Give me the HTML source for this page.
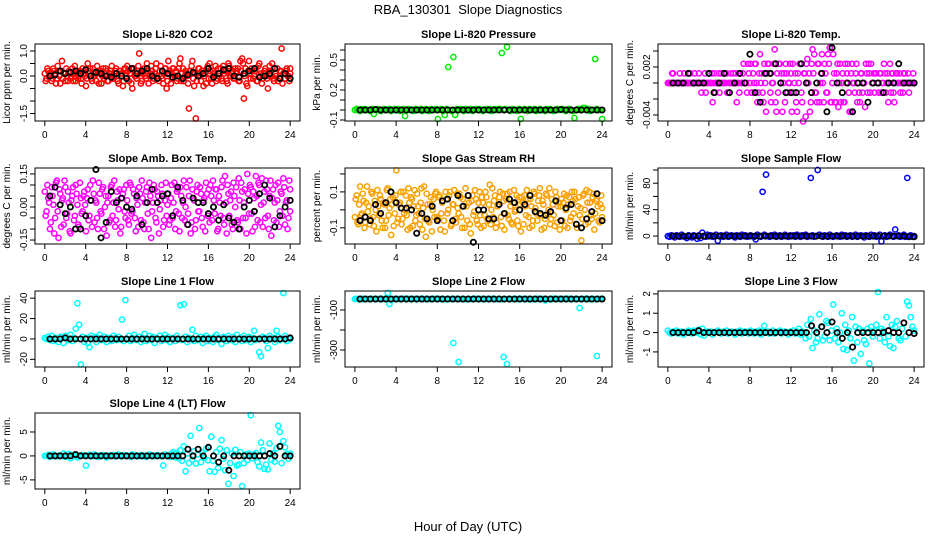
<!DOCTYPE html>
<html><head><meta charset="utf-8"><style>
body{margin:0;background:#fff;}
svg{display:block;font-family:"Liberation Sans",sans-serif;}
</style></head><body>
<svg id="chart" width="936" height="540" viewBox="0 0 936 540">
<rect width="936" height="540" fill="#fff"/>
<text x="468" y="14" text-anchor="middle" font-size="13">RBA_130301&#160;&#160;Slope Diagnostics</text>
<text x="468" y="531" text-anchor="middle" font-size="13">Hour of Day (UTC)</text>
</svg>
<script>
const xTicks = [0,4,8,12,16,20,24];

const p1Color = [.1,-.1,.2,0,-.2,.3,.1,-.1,.2,-.3,.6,.1,-.2,0,.2,-.1,.3,.1,-.2,.2,0,-.1,.3,.1,
-.4,.5,.2,-.1,.3,0,-.2,.2,.1,-.3,.3,0,.2,-.2,.1,.4,-.1,.2,0,-.3,.2,.1,-.2,.3,
.4,-.2,.1,-.5,.3,0,.2,.9,-.3,.1,.3,-.1,.2,0,.4,-.2,.1,.5,-.1,.2,0,-.3,.3,-.5,
.6,.2,-.1,.3,0,-.2,.3,.7,.1,-.2,.2,0,-1.3,.2,.6,-.4,-1.7,.1,.3,-.2,.2,0,-.3,.4,
.5,-.1,.2,0,-.2,.3,.1,-.1,.4,.2,-.2,.5,0,.1,-.1,.3,.2,-.2,.6,.7,-.9,.3,-.4,.6,
-.1,.2,0,.3,-.2,.5,.1,-.1,.2,0,-.5,.4,.2,-.1,.3,0,-.2,.2,1.1,.1,-.1,.3,0,.1];
const p1ColorB = [-.2,.3,0,.1,-.1,.2,-.3,.4,0,.2,-.1,.1,.3,-.2,.1,0,-.2,.4,.1,-.1,.2,-.3,.1,0,
-.1,.2,.3,-.2,0,.1,.4,-.3,.2,0,-.1,.3,-.2,.1,.2,-.1,0,.3,-.2,.2,.1,-.4,.3,0,
.2,.1,-.3,.3,0,-.1,.4,.1,-.2,.2,0,.5,-.3,.1,.2,-.1,.3,0,-.2,.4,-.1,.1,.3,-.2,
.1,-.3,.3,0,.2,-.1,.5,-.2,.3,0,.1,-.3,.2,.4,-.1,.1,-.2,.3,0,.2,-.4,.1,.3,-.1,
.2,-.3,.1,.4,-.1,0,.3,-.2,.1,.2,-.3,.4,0,.2,-.1,.1,.3,-.2,.2,.5,0,-.3,.2,.1,
.3,-.1,.2,-.2,.4,0,-.3,.1,.3,-.1,.2,0,.5,-.2,.1,.3,-.1,.2,-.3,.1,.2,0,-.2,.3];
const p1Black = [0,.05,.2,.1,.15,.2,.1,.25,0,.15,.1,0,-.05,.1,0,-.1,.3,.1,.2,.3,0,-.1,.2,.1,-.05,0,-.1,.05,.15,0,.1,.3,-.05,.1,.25,.3,0,-.05,.1,.2,.3,-.05,0,.1,.3,-.1,.1,-.1];

const p2Color = [0,.01,0,-.01,.01,0,.01,0,0,-.01,.01,-.04,0,.01,0,-.01,0,.01,0,0,.01,-.01,0,.01,
0,.01,-.01,0,.01,-.06,0,.01,0,0,-.01,.01,0,0,.01,-.01,0,.01,0,-.01,.01,0,0,.01,
-.09,0,.01,-.01,-.05,.01,.43,0,-.01,.53,-.05,.01,0,.01,0,-.01,.01,0,0,.01,-.01,0,.01,0,
.01,0,-.01,0,.01,0,.01,-.01,0,.01,0,.01,.01,.57,0,.01,.63,0,-.01,.01,0,0,-.01,.01,
-.09,0,.01,0,-.01,.01,0,0,.01,-.01,0,.01,0,0,-.01,.01,0,.01,0,-.01,0,.01,0,0,
.01,0,-.01,0,.01,0,-.01,-.08,0,.01,0,.01,.02,.02,0,.01,-.01,0,0,.51,.01,0,0,-.09];
const p2Black = [0,0,0,.005,0,0,0,0,0,0,0,0,0,0,0,0,0,0,0,0,0,0,0,0,0,0,0,0,0,0,0,0,0,0,0,0,0,0,0,.005,0,0,0,0,0,0,0,0];

const p3Color = [0,0,0,.0012,0,0,0,.0012,0,0,0,0,0,.0012,0,0,0,0,.0012,0,0,0,-.0012,0,
.0012,0,-.0024,.0012,0,0,-.0012,.0012,0,0,.0012,-.0012,0,0,.0012,0,-.0024,0,.0012,0,.0024,0,-.0012,.0012,
.0024,-.0012,0,.0024,-.0024,.0012,0,-.0012,.0024,-.0036,.0024,.0012,-.0024,0,.0042,-.0036,-.0012,.0024,.0012,0,-.0024,.0012,0,.0024,
-.0036,-.0012,.0012,-.0036,0,.0024,-.0024,.0012,-.0042,.0030,.0012,-.0024,.0042,.0036,-.0012,.0024,-.0024,.0012,0,.0024,-.0012,.0036,.0044,-.0024,
.0036,-.0024,.0012,-.0030,.0024,0,-.0024,.0024,.0012,-.0012,-.0036,.0024,0,.0012,-.0024,-.0012,.0012,-.0012,0,.0024,-.0012,.0012,.0024,0,
-.0012,.0012,0,.0012,-.0012,0,.0012,0,-.0024,.0024,.0012,-.0012,0,.0012,0,-.0012,0,.0012,0,0,-.0012,0,0,0];
const p3ColorB = [0,0,.0012,0,0,0,0,0,0,.0012,0,0,0,0,0,.0012,0,0,0,-.0012,0,.0012,0,0,
0,.0012,0,-.0012,0,.0012,0,0,.0012,0,-.0012,0,.0012,0,0,.0012,0,-.0012,0,.0012,0,0,.0024,0,
-.0012,.0012,.0024,0,-.0012,.0036,.0012,-.0024,0,.0012,.0024,-.0012,0,.0024,-.0024,.0012,.0024,0,-.0036,.0012,.0024,-.0012,0,.0012,
.0024,0,-.0024,.0012,.0024,-.0012,-.0048,.0012,.0024,0,-.0036,.0024,.0012,-.0012,-.0024,.0024,0,.0036,-.0024,.0012,-.0012,.0024,-.0024,0,
.0012,-.0024,.0024,0,-.0024,.0012,-.0024,0,.0024,-.0036,.0012,0,-.0012,.0024,0,-.0024,.0012,0,-.0030,.0012,.0024,-.0012,0,.0012,
.0012,0,-.0012,.0012,0,.0024,-.0012,.0012,0,-.0012,.0012,-.0024,.0012,0,.0012,0,-.0012,.0012,0,.0012,0,0,.0012,0];
const p3Black = [0,0,0,.0012,0,0,0,.0012,-.0012,0,.0012,-.0012,0,.0012,0,.0036,-.0012,-.0024,.0012,.0012,.0024,0,-.0012,-.0012,-.0012,.0024,0,-.0012,0,.0012,-.0036,.0044,0,-.0012,0,-.0036,0,0,-.0024,0,0,-.0012,0,0,.0024,0,0,0];

const p4Color = [.07,-.02,.04,-.1,.09,.01,-.05,.12,-.14,.06,.03,-.08,.09,-.03,.02,-.12,.05,-.06,.1,.01,-.09,.04,-.02,.07,
-.11,.08,-.04,.03,.12,-.07,.02,-.1,.06,-.03,.09,0,-.13,.05,-.06,.1,.02,-.09,.07,-.01,-.12,.04,.08,-.05,
.03,-.08,.1,-.02,.06,-.11,.01,.09,-.06,.04,-.1,.07,-.03,.11,-.14,.02,.08,-.07,.05,-.01,.1,-.09,.03,-.04,
.06,-.06,.1,.02,-.1,.07,-.03,.09,-.05,.12,0,-.08,.05,-.12,.08,.03,-.06,.1,-.02,.06,-.09,.04,.11,-.04,
-.07,.05,.12,-.03,.08,-.1,.02,.09,-.05,.14,-.12,.06,.03,-.08,.11,0,-.06,.13,-.1,.07,.02,-.05,.15,-.03,
.09,-.11,.04,.14,-.06,.1,.01,-.09,.07,.12,-.04,.05,-.13,.08,.02,-.07,.11,-.02,.06,.13,-.08,.03,-.05,.08];
const p4ColorB = [-.04,.1,.02,-.07,.05,-.12,.11,-.02,.08,-.09,.04,.12,-.05,.07,-.11,.03,.09,-.04,.06,-.08,.11,-.03,.05,.01,
.04,-.06,.1,-.09,.06,.03,-.05,.11,-.02,.08,-.1,.05,.02,-.07,.09,-.04,.12,-.06,.03,.08,-.09,.06,-.02,.1,
-.06,.11,-.03,.08,-.05,.04,-.09,.06,.12,-.07,.02,.09,-.1,.05,-.02,.1,-.05,.07,-.12,.03,.06,-.06,.11,.01,
-.08,.04,-.05,.11,-.02,.08,-.11,.05,.02,-.06,.09,-.03,.12,-.07,.04,-.1,.07,-.02,.09,-.05,.03,-.11,.06,.08,
.1,-.06,.03,.08,-.11,.05,-.04,.12,-.08,.02,.1,-.04,.07,-.1,.05,.09,-.07,.03,.11,-.05,.08,-.12,.06,.1,
-.03,.07,-.09,.05,.11,-.07,.13,.02,-.05,.08,-.1,.12,.04,-.06,.1,.03,-.09,.07,-.04,.09,.02,-.1,.12,-.02];
const p4Black = [.05,.09,.01,-.03,0,-.1,-.1,-.04,.03,.17,-.14,-.07,.07,.02,.04,0,-.01,.05,-.08,.02,.08,.02,.05,.06,-.04,.09,.03,-.08,.04,.02,.02,-.03,0,-.06,.01,-.05,-.07,-.1,0,.03,-.02,.06,.1,.04,-.09,-.04,0,.03];

const p5Color = [-.04,.08,-.08,.13,-.02,.05,-.07,.13,.02,-.05,.09,-.09,0,.11,-.03,.06,-.1,.03,-.06,.12,.01,-.14,.07,-.02,
.22,-.05,.04,-.08,.1,0,-.03,.12,-.1,.06,.02,-.06,.09,-.02,.04,-.11,.13,-.15,.03,-.07,.07,0,-.04,.1,
-.05,.08,-.02,.05,-.12,.06,0,.1,-.08,.03,-.05,.09,-.02,.07,-.1,.02,.12,-.06,.04,-.13,.08,-.01,.06,-.08,
.1,-.1,.04,-.03,.07,-.06,.14,0,-.04,.08,-.07,.03,.1,-.09,.05,-.02,.09,-.05,.02,-.08,.11,0,-.06,.07,
-.12,.04,.08,-.03,.06,-.1,.02,-.06,.09,-.02,.05,.12,-.11,.03,-.05,.08,0,-.08,.06,-.03,.1,-.07,.04,.02,
-.06,.09,0,-.1,.07,-.04,.05,.1,-.08,.02,-.03,-.17,.08,0,.11,-.07,.04,-.05,.09,-.02,.06,-.06,.03,.01];
const p5ColorB = [.06,-.07,.03,-.03,.09,-.1,.04,-.01,-.08,.1,-.04,.05,-.12,.02,.08,-.06,.04,-.1,.11,-.03,.06,.03,-.09,.08,
-.07,.03,.1,-.05,-.02,.08,-.11,.04,.07,-.09,.11,-.03,.02,-.08,.12,.01,-.05,.09,-.06,.03,-.12,.06,.09,-.04,
.07,-.11,.04,-.06,.1,-.02,.08,-.09,.03,.11,-.07,.01,.09,-.04,.06,-.1,.02,.08,-.08,.05,-.03,.11,-.06,.04,
-.03,.07,-.09,.1,-.05,.03,-.08,.12,.05,-.1,.02,.07,-.04,.09,-.11,.06,-.03,.1,-.07,.04,-.01,.08,-.09,.03,
.07,-.08,.02,.11,-.04,.06,-.09,.1,.01,-.06,.08,-.03,.05,-.1,.09,-.02,.12,-.05,.03,-.09,.07,.02,-.11,.06,
.04,-.09,.08,.03,-.06,.1,-.02,.06,-.1,.07,.01,-.05,.09,-.08,.04,.1,-.03,.07,-.11,.05,.02,-.07,.08,-.04];
const p5Black = [-.06,-.04,-.06,.03,-.02,.04,.1,.04,.01,.01,0,-.13,-.02,-.05,.02,-.06,.05,.06,-.06,.08,.02,.08,-.18,0,0,-.05,-.05,.03,-.02,.06,.04,0,.03,.08,-.01,-.02,-.03,-.01,.05,-.06,.01,.03,-.08,-.1,-.05,-.01,.09,-.06];

const p6Color = [0,-1,1,0,-2,1,0,-1,2,0,-1,-3,1,0,-2,1,0,-4,1,-3,5,0,-1,2,
0,1,-1,0,2,-7,0,1,-1,0,2,-1,0,1,0,-2,1,0,-1,2,0,1,-1,0,
1,0,-1,-5,2,0,-1,67,2,93,0,-1,1,0,2,-1,0,1,-1,0,2,0,-1,1,
0,1,-1,2,0,-1,1,0,2,-1,0,88,1,-1,0,100,2,0,-1,1,0,-1,2,0,
-1,0,1,0,-1,2,0,1,-1,0,1,-1,0,2,-1,0,1,0,-2,1,0,-1,2,0,
1,-1,0,2,-8,0,1,-1,0,2,0,-1,10,0,1,-1,0,2,-1,88,0,1,-1,0];
const p6Black = [0,0,0,0,0,0,0,0,0,0,0,0,0,0,0,0,0,0,0,0,0,0,0,0,0,0,0,0,0,0,0,0,0,0,0,0,0,0,0,0,0,0,0,0,0,0,-1,-1];

const p7Color = [1,0,2,-1,3,-2,1,0,-3,2,1,-4,3,0,-1,4,-2,1,10,35,14,-25,2,-3,
1,-4,-8,3,0,2,-3,1,4,-1,0,2,-3,1,0,-2,3,1,-1,2,0,19,-2,38,
0,3,-2,1,4,-1,0,2,-3,1,5,-2,0,3,-1,2,-4,1,0,3,-2,1,4,-1,
2,-3,0,1,-2,3,0,33,-1,34,2,-3,1,0,9,-2,3,-1,0,2,-4,1,3,-2,
1,0,-3,2,4,-1,0,-5,2,1,-2,3,0,-1,2,-3,4,0,1,-2,3,-1,0,2,
-3,1,8,-1,0,-13,-17,2,1,-2,-9,3,0,1,-3,8,2,-1,0,45,3,-2,1,0];
const p7Black = [0,0,0,1,0,0,0,0,0,0,0,0,0,0,0,0,0,0,0,0,0,0,0,0,0,0,0,0,0,0,0,0,0,0,0,0,0,0,0,0,0,0,0,0,0,0,0,1];

const p8Color = [-45,-44,-46,-45,-43,-47,-45,-44,-46,-45,-44,-45,-46,-44,-45,-43,-46,-45,-44,-15,-70,-50,-45,-44,
-45,-46,-44,-45,-43,-46,-45,-44,-46,-45,-44,-45,-46,-44,-45,-43,-46,-45,-44,-45,-46,-44,-45,-43,
-45,-44,-46,-45,-47,-44,-45,-46,-44,-265,-45,-43,-360,-46,-44,-45,-47,-45,-44,-46,-45,-43,-45,-44,
-46,-45,-44,-47,-45,-44,-46,-45,-43,-45,-46,-44,-45,-47,-335,-45,-370,-44,-46,-45,-44,-45,-46,-43,
-45,-44,-46,-45,-44,-47,-45,-46,-44,-45,-43,-46,-45,-44,-52,-45,-46,-44,-45,-43,-46,-45,-44,-46,
-45,-44,-46,-43,-45,-44,-46,-45,-44,-45,-90,-46,-44,-45,-43,-46,-45,-44,-45,-46,-330,-44,-45,-43];
const p8Black = [-45,-45,-45,-45,-45,-45,-45,-45,-45,-45,-45,-45,-45,-45,-45,-45,-45,-45,-45,-45,-45,-45,-45,-45,-45,-45,-45,-45,-45,-45,-45,-45,-45,-45,-45,-45,-45,-45,-45,-45,-45,-45,-45,-45,-45,-45,-45,-45];

const p9Color = [.1,0,-.05,.05,0,.1,-.05,0,.05,-.1,0,.05,.1,0,-.05,.1,.05,0,.15,-.1,.2,-.15,0,.05,
0,.05,-.1,0,.05,.1,0,-.05,.05,0,.1,-.05,0,.05,0,-.1,.05,0,.1,-.05,0,.05,0,-.05,
.1,0,-.05,.05,0,.1,-.1,.05,.35,0,.05,-.05,0,.1,-.05,0,.05,.1,-.05,0,.05,0,-.1,.05,
0,.1,-.05,.05,.2,-.1,.05,0,-.3,.4,-.2,.7,-.8,.1,-.5,-.3,.95,.3,-.4,-.2,.6,.5,-.4,.1,
1.45,-.3,.2,-.5,0,1.0,-.85,.4,-.9,.1,-.3,.8,-1.45,.3,-.5,.2,-1.1,.1,-.4,-.6,.2,-1.6,.3,-.2,
.1,.4,2.1,-.3,.2,.1,-.5,.8,-.2,-.7,.4,-.8,.3,.6,-.3,-.4,.2,.5,-.2,1.6,1.4,.8,.3,.1];
const p9Black = [0,0,0,0,0,.1,0,0,0,0,0,0,0,0,0,0,0,0,0,0,0,0,0,0,0,0,0,.35,0,.3,0,.55,0,-.3,0,-.75,0,0,0,0,0,0,.1,0,0,.5,0,-.05];

const p10Color = [0,0,.2,-.2,0,.3,0,-.1,.1,0,0,.5,-.2,0,.4,-.5,0,.2,0,-.3,.1,0,.2,0,
-2,0,.2,-.1,0,.3,0,-.2,.1,0,.2,0,-.3,0,.1,0,.2,-.1,0,.3,0,-.1,.2,0,
.1,0,-.2,.3,0,.1,-.1,0,.2,0,.1,-.2,0,.3,0,-.1,.1,0,.2,0,-.1,-2,.3,0,
.1,-.2,.5,.8,-.3,.6,-.5,1.2,-1,2,-3.2,.5,-1.5,4.2,-.8,1,-1.6,.3,5.8,-1.3,.6,-.4,1.5,-.9,
-3.2,4,-1,-3.3,.8,-2.5,1.5,3.3,-.6,-3,1.2,-5.8,-1.5,.5,-4.2,1.3,-2,-1.8,.8,-6.3,-1.5,.3,-.9,.5,
8.5,-.5,.3,.6,-1.3,-2.2,2.8,1.2,-2.7,-1.8,-2.8,2.6,-.8,.5,-1.2,1.6,6.3,5,-1.5,3.1,1.8,.4,-.6,.5];
const p10Black = [0,0,0,0,0,.3,0,0,0,0,0,0,0,0,0,0,0,0,0,0,0,0,0,0,0,0,0,1.4,0,1.4,0,1.8,0,-1.3,0,-3,0,0,0,0,0,0,0,.5,0,2,0,0];

const p1Ticks=[-1.5,-1,-0.5,0,0.5,1], p1Labels=["-1.5","","","0.0","","1.0"];
const p2Ticks=[-0.1,0,0.1,0.2,0.3,0.4,0.5,0.6], p2Labels=["-0.1","","","0.2","","","0.5",""];
const p3Ticks=[-0.004,-0.002,0,0.002,0.004], p3Labels=["-0.004","","","0.002",""];
const p4Ticks=[-0.15,-0.1,-0.05,0,0.05,0.1,0.15], p4Labels=["-0.15","","","0.00","","","0.15"];
const p5Ticks=[-0.1,0,0.1,0.2], p5Labels=["-0.1","","0.1",""];
const p6Ticks=[0,20,40,60,80,100], p6Labels=["0","","40","","80",""];
const p7Ticks=[-20,0,20,40], p7Labels=["-20","0","20","40"];
const p8Ticks=[-300,-200,-100], p8Labels=["-300","","-100"];
const p9Ticks=[-1,0,1,2], p9Labels=["-1","0","1","2"];
const p10Ticks=[-5,0,5], p10Labels=["-5","0","5"];

const cols=[[35,300],[345,612],[658,924]];
const rows=[[44,121],[168,244],[291,367],[413,489]];
const panels=[
 {name:"co2",title:"Slope Li-820 CO2",yt:"Licor ppm per min.",c:0,r:0,lo:-1.8,hi:1.28,col:"#ff0000",d:p1Color,d2:p1ColorB,b:p1Black,t:p1Ticks,l:p1Labels},
 {name:"pressure",title:"Slope Li-820 Pressure",yt:"kPa per min.",c:1,r:0,lo:-0.11,hi:0.66,col:"#00ee00",d:p2Color,d2:null,b:p2Black,t:p2Ticks,l:p2Labels},
 {name:"li820-temp",title:"Slope Li-820 Temp.",yt:"degrees C per min.",c:2,r:0,lo:-0.00475,hi:0.004875,col:"#ff00ff",d:p3Color,d2:p3ColorB,b:p3Black,t:p3Ticks,l:p3Labels},
 {name:"amb-box-temp",title:"Slope Amb. Box Temp.",yt:"degrees C per min.",c:0,r:1,lo:-0.168,hi:0.177,col:"#ff00ff",d:p4Color,d2:p4ColorB,b:p4Black,t:p4Ticks,l:p4Labels},
 {name:"gas-stream-rh",title:"Slope Gas Stream RH",yt:"percent per min.",c:1,r:1,lo:-0.19,hi:0.233,col:"#f7a000",d:p5Color,d2:p5ColorB,b:p5Black,t:p5Ticks,l:p5Labels},
 {name:"sample-flow",title:"Slope Sample Flow",yt:"ml/min per min.",c:2,r:1,lo:-12,hi:103,col:"#0000ff",d:p6Color,d2:null,b:p6Black,t:p6Ticks,l:p6Labels},
 {name:"line1-flow",title:"Slope Line 1 Flow",yt:"ml/min per min.",c:0,r:2,lo:-27.5,hi:47,col:"#00ffff",d:p7Color,d2:null,b:p7Black,t:p7Ticks,l:p7Labels},
 {name:"line2-flow",title:"Slope Line 2 Flow",yt:"ml/min per min.",c:1,r:2,lo:-385,hi:-5,col:"#00ffff",d:p8Color,d2:null,b:p8Black,t:p8Ticks,l:p8Labels},
 {name:"line3-flow",title:"Slope Line 3 Flow",yt:"ml/min per min.",c:2,r:2,lo:-1.78,hi:2.15,col:"#00ffff",d:p9Color,d2:null,b:p9Black,t:p9Ticks,l:p9Labels},
 {name:"line4-flow",title:"Slope Line 4 (LT) Flow",yt:"ml/min per min.",c:0,r:3,lo:-6.9,hi:8.96,col:"#00ffff",d:p10Color,d2:null,b:p10Black,t:p10Ticks,l:p10Labels}
];
const NS="http://www.w3.org/2000/svg";
const svg=document.getElementById("chart");
function mk(tag,attrs,parent){const e=document.createElementNS(NS,tag);for(const k in attrs)e.setAttribute(k,attrs[k]);parent.appendChild(e);return e;}
panels.forEach(p=>{
 const [x0,x1]=cols[p.c],[y0,y1]=rows[p.r];
 const g=mk("g",{},svg);
 
 
 const xs=h=>x0+(h+0.96)/25.92*(x1-x0);
 const ys=v=>y1-(v-p.lo)/(p.hi-p.lo)*(y1-y0);
 const tt=mk("text",{x:(x0+x1)/2,y:y0-6,"text-anchor":"middle","font-size":"11","font-weight":"bold"},g);
 tt.textContent=p.title;
 
 
 const yt=mk("text",{transform:`translate(${x0-25},${(y0+y1)/2}) rotate(-90)`,"text-anchor":"middle","font-size":"10"},g);
 yt.textContent=p.yt;
 
 
 const pg=mk("g",{fill:"none"},g);
 
 
 const n=p.d.length;
 p.d.forEach((v,i)=>{
  const c=mk("circle",{cx:xs(i*24/(n-1)),cy:ys(v),r:2.6,stroke:p.col,"stroke-width":1.5},pg);
  
  
 });
 if(p.d2){
  const n2=p.d2.length;
  p.d2.forEach((v,i)=>{
   const c=mk("circle",{cx:xs(Math.min(24,(i+0.5)*24/(n2-1))),cy:ys(v),r:2.6,stroke:p.col,"stroke-width":1.5},pg);
   
   
  });
 }
 const m=p.b.length;
 p.b.forEach((v,i)=>{
  const c=mk("circle",{cx:xs((i+1)*24/m),cy:ys(v),r:2.6,stroke:"#000","stroke-width":1.8},pg);
  
  
 });
 const box=mk("rect",{x:x0,y:y0,width:x1-x0,height:y1-y0,fill:"none",stroke:"#000","stroke-width":1},g);
 
 
 p.t.forEach((v,i)=>{
  const y=ys(v);
  const tk=mk("line",{x1:x0-5,x2:x0,y1:y,y2:y,stroke:"#000"},g);
  
  
  if(p.l[i]){
   const lb=mk("text",{transform:`translate(${x0-8},${y}) rotate(-90)`,"text-anchor":"middle","font-size":"10"},g);
   lb.textContent=p.l[i];
   
   
  }
 });
 xTicks.forEach(h=>{
  const x=xs(h);
  const tk=mk("line",{x1:x,x2:x,y1:y1,y2:y1+5,stroke:"#000"},g);
  
  
  const lb=mk("text",{x:x,y:y1+17,"text-anchor":"middle","font-size":"10"},g);
  lb.textContent=h;
  
  
 });
});
</script>
</body></html>
